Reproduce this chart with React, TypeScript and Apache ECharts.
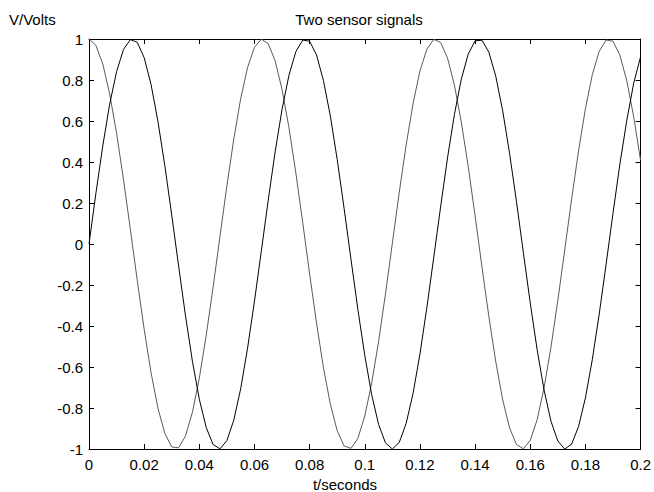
import React, { useEffect, useRef } from "react";
import * as echarts from "echarts";

// time samples (seconds)
const timeSeconds = [
  0, 0.0025, 0.005, 0.0075, 0.01, 0.0125, 0.015, 0.0175, 0.02, 0.0225,
  0.025, 0.0275, 0.03, 0.0325, 0.035, 0.0375, 0.04, 0.0425, 0.045, 0.0475,
  0.05, 0.0525, 0.055, 0.0575, 0.06, 0.0625, 0.065, 0.0675, 0.07, 0.0725,
  0.075, 0.0775, 0.08, 0.0825, 0.085, 0.0875, 0.09, 0.0925, 0.095, 0.0975,
  0.1, 0.1025, 0.105, 0.1075, 0.11, 0.1125, 0.115, 0.1175, 0.12, 0.1225,
  0.125, 0.1275, 0.13, 0.1325, 0.135, 0.1375, 0.14, 0.1425, 0.145, 0.1475,
  0.15, 0.1525, 0.155, 0.1575, 0.16, 0.1625, 0.165, 0.1675, 0.17, 0.1725,
  0.175, 0.1775, 0.18, 0.1825, 0.185, 0.1875, 0.19, 0.1925, 0.195, 0.1975, 0.2,
];

// sensor 1 (dark line, starts at 0)
const sensor1Volts = [
  0, 0.247, 0.479, 0.682, 0.841, 0.949, 0.997, 0.984, 0.909, 0.778,
  0.598, 0.382, 0.141, -0.108, -0.351, -0.572, -0.757, -0.895, -0.978, -0.999,
  -0.959, -0.859, -0.706, -0.508, -0.279, -0.033, 0.215, 0.45, 0.657, 0.823,
  0.938, 0.995, 0.989, 0.922, 0.798, 0.625, 0.412, 0.174, -0.075, -0.32,
  -0.544, -0.735, -0.88, -0.97, -1.0, -0.968, -0.875, -0.729, -0.537, -0.311,
  -0.066, 0.182, 0.42, 0.632, 0.804, 0.926, 0.991, 0.994, 0.935, 0.818,
  0.65, 0.442, 0.207, -0.042, -0.288, -0.516, -0.712, -0.864, -0.961, -1.0,
  -0.976, -0.891, -0.751, -0.564, -0.342, -0.099, 0.15, 0.39, 0.603, 0.784, 0.913,
];

// sensor 2 (grey line, starts at 1)
const sensor2Volts = [
  1, 0.969, 0.878, 0.732, 0.54, 0.315, 0.071, -0.178, -0.416, -0.628,
  -0.801, -0.924, -0.99, -0.994, -0.936, -0.821, -0.654, -0.446, -0.211, 0.038,
  0.284, 0.512, 0.709, 0.861, 0.96, 0.999, 0.977, 0.893, 0.754, 0.568,
  0.347, 0.104, -0.146, -0.386, -0.602, -0.781, -0.911, -0.985, -0.997, -0.948,
  -0.839, -0.678, -0.476, -0.243, 0.004, 0.252, 0.483, 0.685, 0.844, 0.95,
  0.998, 0.983, 0.907, 0.775, 0.595, 0.378, 0.137, -0.113, -0.355, -0.575,
  -0.76, -0.897, -0.978, -0.999, -0.958, -0.857, -0.702, -0.504, -0.275, -0.029,
  0.219, 0.454, 0.66, 0.826, 0.94, 0.995, 0.989, 0.921, 0.796, 0.621, 0.408,
];

const xRange = { min: 0, max: 0.2, step: 0.02 };
const yRange = { min: -1, max: 1, step: 0.2 };

const titleText = "Two sensor signals";
const xLabelText = "t/seconds";
const yLabelText = "V/Volts";

const FONT = "'Liberation Sans', Arial, Helvetica, sans-serif";

export default function App() {
  const ref = useRef<HTMLDivElement>(null);

  useEffect(() => {
    document.body.style.margin = "0";
    if (!ref.current) return;
    const chart = echarts.init(ref.current, null, { renderer: "svg" });

    const fmtX = (v: number) => String(+v.toFixed(3));
    const fmtY = (v: number) => String(+v.toFixed(2));

    const axisLine = { show: true, onZero: false, lineStyle: { color: "#000", width: 1 } };
    const axisTick = { show: true, inside: true, length: 5, lineStyle: { color: "#000", width: 1 } };
    const labelStyle = { color: "#000", fontSize: 15, fontFamily: FONT };

    chart.setOption({
      animation: false,
      backgroundColor: "#fff",
      grid: { left: 89, top: 39, width: 555, height: 410, containLabel: false },
      xAxis: [
        {
          type: "value",
          position: "bottom",
          min: xRange.min,
          max: xRange.max,
          interval: xRange.step,
          axisLine,
          axisTick,
          axisLabel: { ...labelStyle, margin: 8, formatter: fmtX, showMinLabel: true, showMaxLabel: true },
          splitLine: { show: false },
        },
        {
          type: "value",
          position: "top",
          min: xRange.min,
          max: xRange.max,
          interval: xRange.step,
          axisLine,
          axisTick,
          axisLabel: { show: false },
          splitLine: { show: false },
        },
      ],
      yAxis: [
        {
          type: "value",
          position: "left",
          min: yRange.min,
          max: yRange.max,
          interval: yRange.step,
          axisLine,
          axisTick,
          axisLabel: { ...labelStyle, margin: 6, formatter: fmtY, showMinLabel: true, showMaxLabel: true },
          splitLine: { show: false },
        },
        {
          type: "value",
          position: "right",
          min: yRange.min,
          max: yRange.max,
          interval: yRange.step,
          axisLine,
          axisTick,
          axisLabel: { show: false },
          splitLine: { show: false },
        },
      ],
      graphic: [
        {
          type: "text",
          x: 359,
          y: 19,
          style: { text: titleText, fill: "#000", font: `15px ${FONT}`, align: "center", verticalAlign: "middle" },
        },
        {
          type: "text",
          x: 9,
          y: 19,
          style: { text: yLabelText, fill: "#000", font: `15px ${FONT}`, align: "left", verticalAlign: "middle" },
        },
        {
          type: "text",
          x: 345,
          y: 484,
          style: { text: xLabelText, fill: "#000", font: `15px ${FONT}`, align: "center", verticalAlign: "middle" },
        },
      ],
      series: [
        {
          name: "Sensor 2",
          type: "line",
          xAxisIndex: 0,
          yAxisIndex: 0,
          showSymbol: false,
          data: timeSeconds.map((t, i) => [t, sensor2Volts[i]]),
          lineStyle: { color: "#5a5a5a", width: 1 },
          itemStyle: { color: "#5a5a5a" },
        },
        {
          name: "Sensor 1",
          type: "line",
          xAxisIndex: 0,
          yAxisIndex: 0,
          showSymbol: false,
          data: timeSeconds.map((t, i) => [t, sensor1Volts[i]]),
          lineStyle: { color: "#000", width: 1 },
          itemStyle: { color: "#000" },
        },
      ],
    });

    return () => chart.dispose();
  }, []);

  return <div ref={ref} style={{ width: 654, height: 492 }} />;
}
